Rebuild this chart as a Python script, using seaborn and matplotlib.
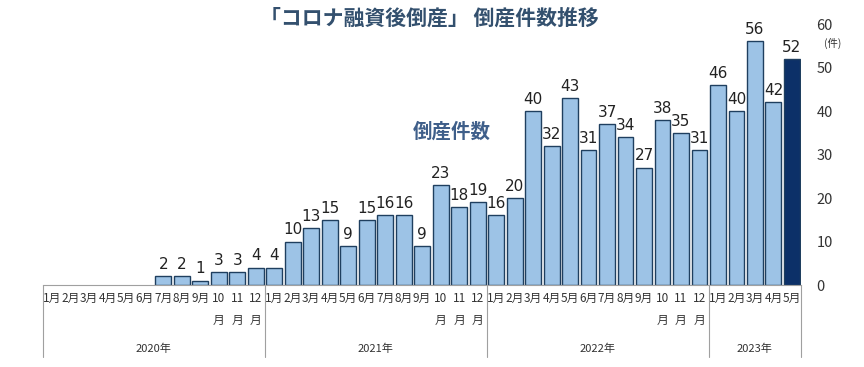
import matplotlib
matplotlib.use("Agg")
import matplotlib.pyplot as plt
import matplotlib.transforms as mtransforms
import seaborn as sns
import pandas as pd

years = ["2020年", "2021年", "2022年", "2023年"]
months_per_year = [12, 12, 12, 5]
counts = [
    0, 0, 0, 0, 0, 0, 2, 2, 1, 3, 3, 4,
    4, 10, 13, 15, 9, 15, 16, 16, 9, 23, 18, 19,
    16, 20, 40, 32, 43, 31, 37, 34, 27, 38, 35, 31,
    46, 40, 56, 42, 52,
]

sns.set_theme(style="white")
plt.rcParams["font.family"] = ["Noto Sans CJK JP", "DejaVu Sans"]

# build month keys / labels
keys, labels = [], []
for y, n in zip(years, months_per_year):
    for m in range(1, n + 1):
        keys.append(f"{y}{m}")
        labels.append(f"{m}\n月" if m >= 10 else f"{m}月")

df = pd.DataFrame({"key": keys, "count": counts})
light = "#9dc3e6"
dark = "#0c3068"
palette = [light] * (len(keys) - 1) + [dark]

fig = plt.figure(figsize=(8.64, 3.67), dpi=100)
ax = fig.add_axes([0.0498, 0.2234, 0.8775, 0.7112])

sns.barplot(data=df, x="key", y="count", hue="key", palette=palette,
            legend=False, ax=ax, width=0.86, edgecolor="#1f3f5f",
            linewidth=1.0, saturation=1)

for i, c in enumerate(ax.containers):
    v = counts[i]
    if v > 0:
        ax.bar_label(c, labels=[str(v)], padding=3, fontsize=11,
                     color="#222222", family=["DejaVu Sans"])
    else:
        # no visible stub for empty months
        for p in c.patches:
            p.set_linewidth(0)

ax.set_ylim(0, 60)
ax.set_xlim(-0.5, len(keys) - 0.5)
ax.set_xlabel("")
ax.set_ylabel("")
ax.yaxis.tick_right()
ax.set_yticks(range(0, 61, 10))
ax.tick_params(axis="y", length=0, pad=11, labelsize=10.5, colors="#333333")
ax.set_xticks(range(len(keys)))
ax.set_xticklabels(labels, fontsize=8.5, color="#333333", linespacing=1.9,
                   va="top")
ax.tick_params(axis="x", length=0, pad=5)
for s in ["top", "left", "right"]:
    ax.spines[s].set_visible(False)
ax.spines["bottom"].set_color("#a0a0a0")
ax.spines["bottom"].set_linewidth(0.8)

# year separators and labels
trans = mtransforms.blended_transform_factory(ax.transData, ax.transAxes)
start = 0
bounds = [-0.5]
for y, n in zip(years, months_per_year):
    mid = start + (n - 1) / 2
    ax.text(mid, -0.243, y, transform=trans, ha="center", va="center",
            fontsize=8, color="#333333")
    start += n
    bounds.append(start - 0.5)
for b in bounds:
    ax.plot([b, b], [0, -0.275], transform=trans, color="#a0a0a0",
            lw=0.8, clip_on=False)

ax.text(1.03, 0.925, "(件)", transform=ax.transAxes, ha="left",
        va="center", fontsize=7.5, color="#333333")
ax.text(21.6, 35.2, "倒産件数", ha="center", va="center", fontsize=14,
        fontweight="bold", color="#3f5f8a")

fig.text(0.497, 0.95, "「コロナ融資後倒産」 倒産件数推移", ha="center",
         va="center", fontsize=15, fontweight="bold", color="#33506e")

fig.savefig("out.png", dpi=100)
